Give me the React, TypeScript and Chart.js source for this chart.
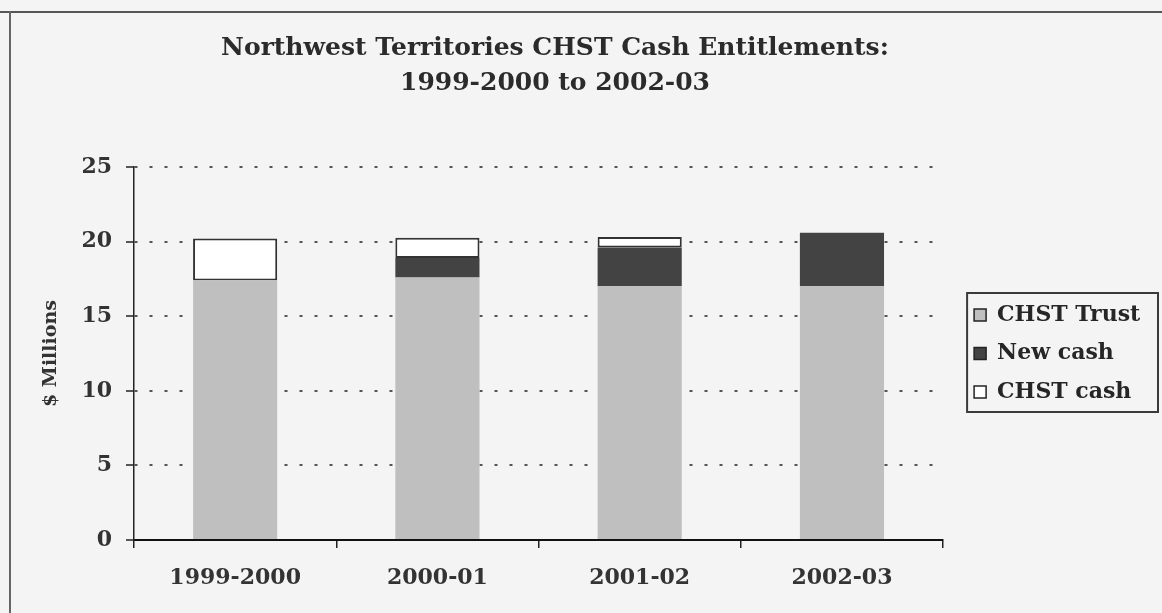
import React, { useEffect, useRef } from "react";
import { Chart, registerables } from "chart.js";

Chart.register(...registerables);

const titleLines = ["Northwest Territories CHST Cash Entitlements:", "1999-2000 to 2002-03"];
const categories = ["1999-2000", "2000-01", "2001-02", "2002-03"];
const chstTrust = [17.4, 17.6, 17.0, 17.0];
const newCash = [0, 1.3, 2.6, 3.6];
const chstCash = [2.8, 1.35, 0.7, 0];
const seriesNames = ["CHST Trust", "New cash", "CHST cash"];
const yAxisTitle = "$ Millions";

const FONT = "'DejaVu Serif', serif";
const LEGEND_FONT_SIZE = 22;
const LEGEND_PAD = 16.5;
const SPACER = 14.5;

export default function App() {
  const ref = useRef<HTMLCanvasElement>(null);

  useEffect(() => {
    if (!ref.current) return;
    const mctx = document.createElement("canvas").getContext("2d")!;
    mctx.font = `bold ${LEGEND_FONT_SIZE}px ${FONT}`;
    const tw = Math.max(...seriesNames.map((s) => mctx.measureText(s).width));
    const legendW = LEGEND_PAD + 12 + LEGEND_FONT_SIZE / 2 + tw + 10;
    const padRight = Math.max(0, 1162 - (942 + SPACER) - legendW);

    const bgPlugin = {
      id: "bgTitle",
      beforeDraw(chart: any) {
        const c = chart.ctx;
        c.save();
        c.fillStyle = "#f4f4f4";
        c.fillRect(0, 0, chart.width, chart.height);
        c.restore();
      },
      afterDraw(chart: any) {
        const c = chart.ctx;
        c.save();
        c.fillStyle = "#2b2b2b";
        c.textAlign = "center";
        c.textBaseline = "middle";
        c.font = `bold 25px ${FONT}`;
        c.fillText(titleLines[0], 555, 48);
        c.fillText(titleLines[1], 555, 83);
        const lg = chart.legend;
        if (lg && lg.legendHitBoxes && lg.legendHitBoxes.length) {
          const hbs = lg.legendHitBoxes;
          const l = Math.min(...hbs.map((h: any) => h.left)) - 7;
          const r = Math.max(1158, Math.max(...hbs.map((h: any) => h.left + h.width)) + 5);
          const t = Math.min(...hbs.map((h: any) => h.top)) - 11;
          const b = Math.max(...hbs.map((h: any) => h.top + h.height)) + 9;
          c.strokeStyle = "#3a3a3a";
          c.lineWidth = 2;
          c.strokeRect(l, t, r - l, b - t);
        }
        c.restore();
      },
    };

    const chart = new Chart(ref.current, {
      type: "bar",
      data: {
        labels: categories,
        datasets: [
          { label: seriesNames[0], data: chstTrust, backgroundColor: "#bfbfbf", borderWidth: 0 },
          { label: seriesNames[1], data: newCash, backgroundColor: "#434343", borderWidth: 0 },
          {
            label: seriesNames[2],
            data: chstCash,
            backgroundColor: "#ffffff",
            borderColor: "#333333",
            borderWidth: 2,
            borderSkipped: false,
          },
        ],
      },
      options: {
        responsive: false,
        animation: false,
        layout: { padding: { left: 0, right: padRight, top: 167, bottom: 0 } },
        datasets: { bar: { categoryPercentage: 1, barPercentage: 0.416 } },
        plugins: {
          title: { display: false },
          tooltip: { enabled: false },
          legend: {
            position: "right",
            fullSize: false,
            labels: {
              boxWidth: 12,
              boxHeight: 12,
              padding: LEGEND_PAD,
              color: "#262626",
              font: { family: FONT, size: LEGEND_FONT_SIZE, weight: "bold" },
              generateLabels(ch: any) {
                const items = Chart.defaults.plugins.legend.labels.generateLabels(ch);
                return items.map((it: any) => ({ ...it, lineWidth: 1.5, strokeStyle: "#222" }));
              },
            },
          },
        },
        scales: {
          x: {
            stacked: true,
            offset: true,
            grid: {
              display: true,
              drawOnChartArea: false,
              drawTicks: true,
              tickLength: 8,
              color: "#222",
              lineWidth: 1.5,
            },
            border: { display: true, color: "#111", width: 2 },
            ticks: {
              color: "#333",
              padding: 17,
              font: { family: FONT, size: 22, weight: "bold" },
            },
            afterFit(s: any) {
              s.height = 73;
            },
          },
          y: {
            stacked: true,
            min: 0,
            max: 25,
            ticks: {
              stepSize: 5,
              color: "#333",
              padding: 14,
              font: { family: FONT, size: 22, weight: "bold" },
            },
            grid: {
              color: "#555",
              lineWidth: 2,
              tickLength: 8,
              tickColor: "#222",
              tickWidth: 1.5,
              tickBorderDash: [],
            },
            border: { display: true, color: "#222", width: 1.5, dash: [3, 12] },
            title: {
              display: true,
              text: yAxisTitle,
              color: "#333",
              font: { family: FONT, size: 19, weight: "bold" },
              padding: { top: 40, bottom: 0 },
            },
            afterFit(s: any) {
              s.width = 134;
            },
          },
          spacer: {
            type: "linear",
            axis: "y",
            position: "right",
            display: true,
            grid: { display: false },
            ticks: { display: false },
            border: { display: false },
            afterFit(s: any) {
              s.width = SPACER;
            },
          },
        },
      } as any,
      plugins: [bgPlugin],
    });
    return () => chart.destroy();
  }, []);

  return (
    <div style={{ position: "absolute", left: 0, top: 0, width: 1162, height: 613 }}>
      <canvas ref={ref} width={1162} height={613} style={{ display: "block" }} />
      <div style={{ position: "absolute", left: 0, top: 11, width: 1162, height: 2, background: "#555" }} />
      <div style={{ position: "absolute", left: 9, top: 11, width: 2, height: 602, background: "#666" }} />
    </div>
  );
}
